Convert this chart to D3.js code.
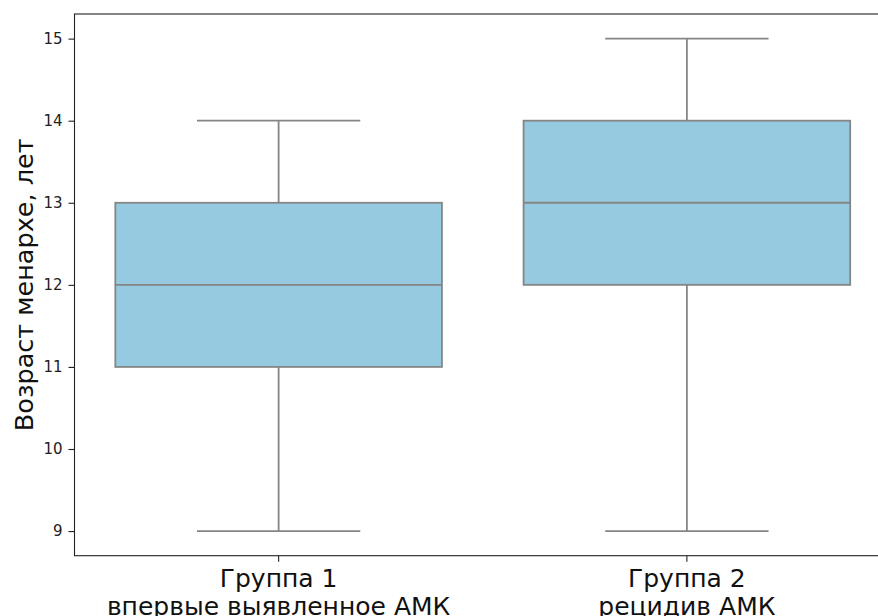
<!DOCTYPE html>
<html>
<head>
<meta charset="utf-8">
<script src="https://cdn.jsdelivr.net/npm/d3@7"></script>
<style>
  html, body { margin: 0; padding: 0; background: #fff; }
  svg { display: block; }
  text { font-family: "DejaVu Sans", sans-serif; }
</style>
</head>
<body>
<svg id="chart" width="878" height="616"></svg>
<script>
// Groups and their box statistics (age at menarche, years)
const groups = ["Группа 1", "Группа 2"];
const groupSubtitles = ["впервые выявленное АМК", "рецидив АМК"];
const whiskerLow = [9, 9];
const q1 = [11, 12];
const medians = [12, 13];
const q3 = [13, 14];
const whiskerHigh = [14, 15];
const yTicks = [9, 10, 11, 12, 13, 14, 15];
const yLabel = "Возраст менархе, лет";

const boxes = groups.map((g, i) => ({
  group: g, sub: groupSubtitles[i],
  lo: whiskerLow[i], q1: q1[i], med: medians[i], q3: q3[i], hi: whiskerHigh[i]
}));

const svg = d3.select("#chart");
const plot = { left: 74.5, right: 891, top: 14, bottom: 555.7 };

const x = d3.scaleBand().domain(groups).range([plot.left, plot.right]).padding(0);
const y = d3.scaleLinear().domain([8.7, 15.3]).range([plot.bottom, plot.top]);

const fill = "#96cae0";
const lineColor = "#858585";
const lw = 1.8;
const bw = x.bandwidth();

const g = svg.append("g");

boxes.forEach(d => {
  const cx = x(d.group) + bw / 2;
  const boxW = bw * 0.8, capW = bw * 0.4;
  // whiskers
  g.append("line").attr("x1", cx).attr("x2", cx).attr("y1", y(d.q1)).attr("y2", y(d.lo))
    .attr("stroke", lineColor).attr("stroke-width", lw);
  g.append("line").attr("x1", cx).attr("x2", cx).attr("y1", y(d.q3)).attr("y2", y(d.hi))
    .attr("stroke", lineColor).attr("stroke-width", lw);
  // caps
  [d.lo, d.hi].forEach(v => {
    g.append("line").attr("x1", cx - capW / 2).attr("x2", cx + capW / 2)
      .attr("y1", y(v)).attr("y2", y(v))
      .attr("stroke", lineColor).attr("stroke-width", lw);
  });
  // box
  g.append("rect").attr("x", cx - boxW / 2).attr("width", boxW)
    .attr("y", y(d.q3)).attr("height", y(d.q1) - y(d.q3))
    .attr("fill", fill).attr("stroke", lineColor).attr("stroke-width", lw);
  // median
  g.append("line").attr("x1", cx - boxW / 2).attr("x2", cx + boxW / 2)
    .attr("y1", y(d.med)).attr("y2", y(d.med))
    .attr("stroke", lineColor).attr("stroke-width", lw);
});

// frame
svg.append("rect")
  .attr("x", plot.left).attr("y", plot.top)
  .attr("width", plot.right - plot.left).attr("height", plot.bottom - plot.top)
  .attr("fill", "none").attr("stroke", "#222").attr("stroke-width", 1.1);

// y axis
const yAxis = svg.append("g").attr("transform", `translate(${plot.left},0)`)
  .call(d3.axisLeft(y).tickValues(yTicks).tickSize(6).tickPadding(6).tickFormat(d3.format("d")));
yAxis.select(".domain").remove();
yAxis.selectAll(".tick line").attr("stroke", "#222").attr("stroke-width", 1.1);
yAxis.selectAll(".tick text").attr("font-size", 15).attr("fill", "#222")
  .style("font-family", "DejaVu Sans");

// x axis
const xAxis = svg.append("g").attr("transform", `translate(0,${plot.bottom})`)
  .call(d3.axisBottom(x).tickSize(6).tickFormat(""));
xAxis.select(".domain").remove();
xAxis.selectAll(".tick line").attr("stroke", "#222").attr("stroke-width", 1.1);
xAxis.selectAll(".tick text").remove();

boxes.forEach(d => {
  const cx = x(d.group) + bw / 2;
  const t = svg.append("text").attr("text-anchor", "middle").attr("font-size", 25).attr("fill", "#111");
  t.append("tspan").attr("x", cx).attr("y", 587).text(d.group);
  t.append("tspan").attr("x", cx).attr("y", 615).text(d.sub);
});

// y label
svg.append("text")
  .attr("transform", `translate(33,${(plot.top + plot.bottom) / 2}) rotate(-90)`)
  .attr("text-anchor", "middle").attr("font-size", 25.5).attr("fill", "#111")
  .text(yLabel);
</script>
</body>
</html>
